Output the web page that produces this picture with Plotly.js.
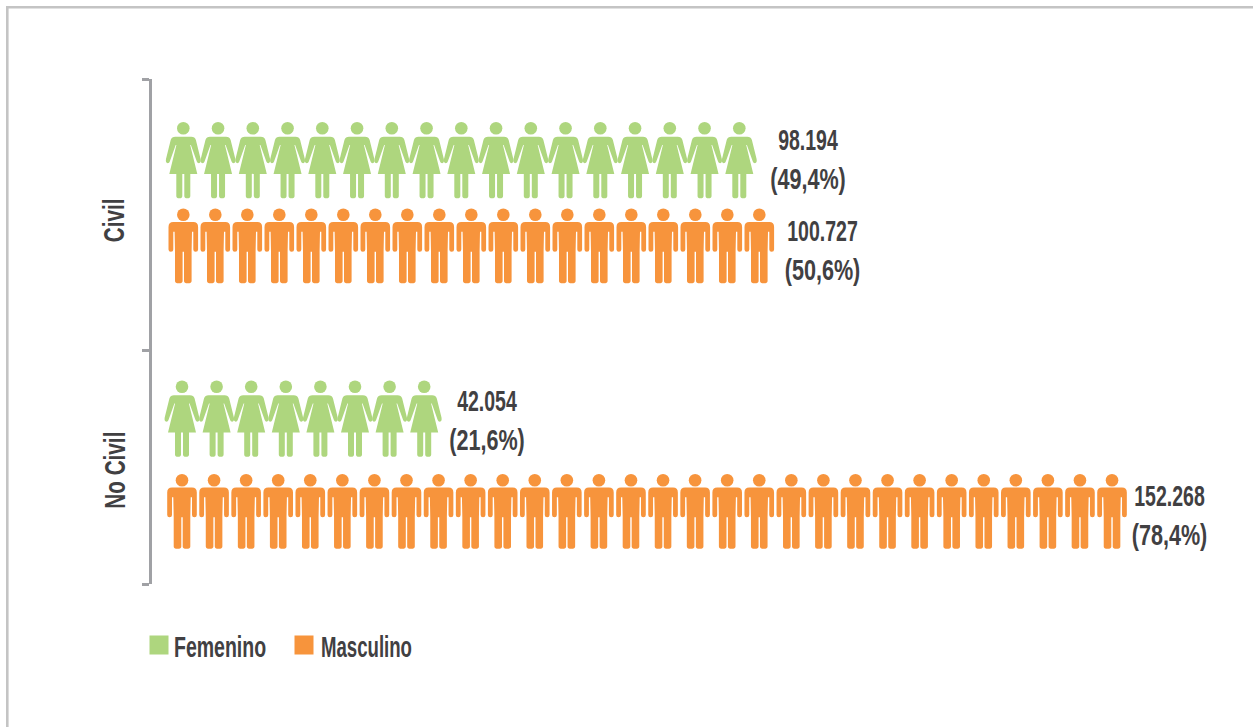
<!DOCTYPE html>
<html>
<head>
<meta charset="utf-8">
<script src="https://cdn.plot.ly/plotly-3.0.1.min.js"></script>
<style>html,body{margin:0;padding:0;background:#fff}#chart{width:1253px;height:727px}</style>
</head>
<body>
<div id="chart"></div>
<script>
// ---- data ----
var groups = ['Civil', 'No Civil'];
var genders = ['Femenino', 'Masculino'];
var rowGender = [0, 1, 0, 1];
var rowValues = ['98.194', '100.727', '42.054', '152.268'];
var rowPercents = ['(49,4%)', '(50,6%)', '(21,6%)', '(78,4%)'];
var rowIcons = [17, 19, 8, 30];

// ---- layout constants ----
var W = 1253, H = 727;
var plotL = 152, plotT = 79, plotB = 584;
var rowY = [160, 246, 418.5, 511.5];
var rowStart = [183.3, 183.3, 182, 182];
var rowPitch = [34.75, 32, 34.6, 32.07];
var labelX = [808, 822.5, 487, 1169.5];
var labelY = [161.5, 253, 422.5, 517.5];
var labelGap = 19.5;
var colors = ['#AED67E', '#F7943C'];
var ink = '#414042';
var fontFam = '"Liberation Sans", sans-serif';
var fontSize = 30;
var headDy = [-31.7, -31.3];

// half outlines (right side, y down, relative to the icon centre)
var femaleHalf = 'M0,-23.3 L8,-23.3 Q11.5,-23.3 12.6,-20 L17.3,-1 Q18,2.8 15.6,3.3 Q14,3.3 13.5,1.5 L7.6,-15 L6.9,-15 L14,14 L0,14 Z ' +
                 'M1,14 L7,14 L7,36 Q7,38.3 4,38.3 Q1,38.3 1,36 Z';
var maleHalf = 'M0,-24 L10,-24 Q14.8,-24 14.8,-19 L14.8,3.5 Q14.8,5.7 12.4,5.7 Q10,5.7 10,3.5 L10,-14.3 L8.7,-14.3 L8.3,5.7 L8.3,35 ' +
               'Q8.3,37.3 4.5,37.3 Q0.7,37.3 0.7,35 L0.7,5.7 L0,5.7 Z';

function transformPath(d, sx) {
  return d.replace(/(-?[\d.]+),(-?[\d.]+)/g, function (_, x, y) {
    return (sx * parseFloat(x)) + ',' + (-parseFloat(y));
  });
}
function fullIcon(half) { return transformPath(half, 1) + ' ' + transformPath(half, -1); }
var iconPaths = [fullIcon(femaleHalf), fullIcon(maleHalf)];

// ---- icons ----
var shapes = [];
var headX = [[], []], headY = [[], []];
rowIcons.forEach(function (n, r) {
  var g = rowGender[r];
  for (var i = 0; i < n; i++) {
    var x = rowStart[r] + i * rowPitch[r];
    shapes.push({
      type: 'path', xref: 'x', yref: 'y', xsizemode: 'pixel', ysizemode: 'pixel',
      xanchor: x, yanchor: rowY[r], path: iconPaths[g],
      fillcolor: colors[g], line: {width: 0}, layer: 'above'
    });
    headX[g].push(x);
    headY[g].push(rowY[r] + headDy[g]);
  }
});

// frame
shapes.push({type: 'line', xref: 'paper', yref: 'paper', x0: 7.3 / W, x1: 7.3 / W, y0: 0, y1: 1 - 6 / H, line: {color: '#C4C4C4', width: 2.6}});
shapes.push({type: 'line', xref: 'paper', yref: 'paper', x0: 6 / W, x1: 1, y0: 1 - 7.3 / H, y1: 1 - 7.3 / H, line: {color: '#C4C4C4', width: 2.6}});

// ---- traces ----
var traces = [];
genders.forEach(function (name, g) {
  traces.push({
    type: 'scatter', mode: 'markers', name: name, x: headX[g], y: headY[g],
    marker: {symbol: 'circle', size: 12.6, color: colors[g]},
    showlegend: false, hoverinfo: 'name', cliponaxis: false
  });
});
genders.forEach(function (name, g) {
  traces.push({
    type: 'scatter', mode: 'markers', name: name, x: [null], y: [null],
    marker: {symbol: 'square', size: 16, color: colors[g], line: {color: colors[g], width: 3}},
    showlegend: true
  });
});
var labelFont = {family: fontFam, size: fontSize, color: ink, weight: 'bold'};
traces.push({
  type: 'scatter', mode: 'text', x: labelX, y: labelY.map(function (y) { return y - labelGap; }),
  text: rowValues, textposition: 'middle center', showlegend: false, hoverinfo: 'skip', cliponaxis: false,
  textfont: labelFont
});
traces.push({
  type: 'scatter', mode: 'text', x: labelX, y: labelY.map(function (y) { return y + labelGap; }),
  text: rowPercents, textposition: 'middle center', showlegend: false, hoverinfo: 'skip', cliponaxis: false,
  textfont: labelFont
});

var layout = {
  width: W, height: H,
  margin: {l: 0, r: 0, t: 0, b: 0},
  paper_bgcolor: '#fff', plot_bgcolor: '#fff',
  font: {family: fontFam, color: ink, size: fontSize},
  xaxis: {domain: [plotL / W, 1], range: [plotL, W], visible: false, fixedrange: true},
  yaxis: {
    domain: [1 - plotB / H, 1 - plotT / H], range: [plotB, plotT], fixedrange: true,
    tickmode: 'array', tickvals: [79, 350, 584], showticklabels: false, ticks: 'outside',
    ticklen: 7, tickwidth: 2.6, tickcolor: '#A0A1A5', showgrid: false, zeroline: false,
    showline: true, linecolor: '#A0A1A5', linewidth: 2.6
  },
  shapes: shapes,
  annotations: [
    {xref: 'paper', yref: 'paper', x: 114 / W, y: 1 - 221 / H, text: groups[0], textangle: -90, showarrow: false, xanchor: 'center', yanchor: 'middle', font: labelFont},
    {xref: 'paper', yref: 'paper', x: 114 / W, y: 1 - 470 / H, text: groups[1], textangle: -90, showarrow: false, xanchor: 'center', yanchor: 'middle', font: labelFont}
  ],
  legend: {
    orientation: 'h', x: 139 / W, xanchor: 'left', y: 1 - 645 / H, yanchor: 'middle',
    bgcolor: 'rgba(0,0,0,0)', entrywidth: 100, entrywidthmode: 'pixels',
    font: labelFont
  },
  showlegend: true,
  hovermode: 'closest'
};

// the reference face is condensed: squeeze the installed sans to the same width
function condense(root) {
  root.querySelectorAll('.textpoint text, .annotation-text, .legendtext').forEach(function (t) {
    var s = t.textContent;
    var k = s.charAt(0) === '(' ? 0.72 : (groups.indexOf(s) >= 0 ? 0.69 : (s === genders[1] ? 0.62 : 0.65));
    t.setAttribute('textLength', (t.getComputedTextLength() * k).toFixed(1));
    t.setAttribute('lengthAdjust', 'spacingAndGlyphs');
  });
  var textX = [35, 37];
  root.querySelectorAll('.legendtext').forEach(function (t, i) { t.setAttribute('x', textX[i]); });
}

Plotly.newPlot('chart', traces, layout, {displayModeBar: false, responsive: false}).then(function (gd) {
  condense(gd);
});
</script>
</body>
</html>
